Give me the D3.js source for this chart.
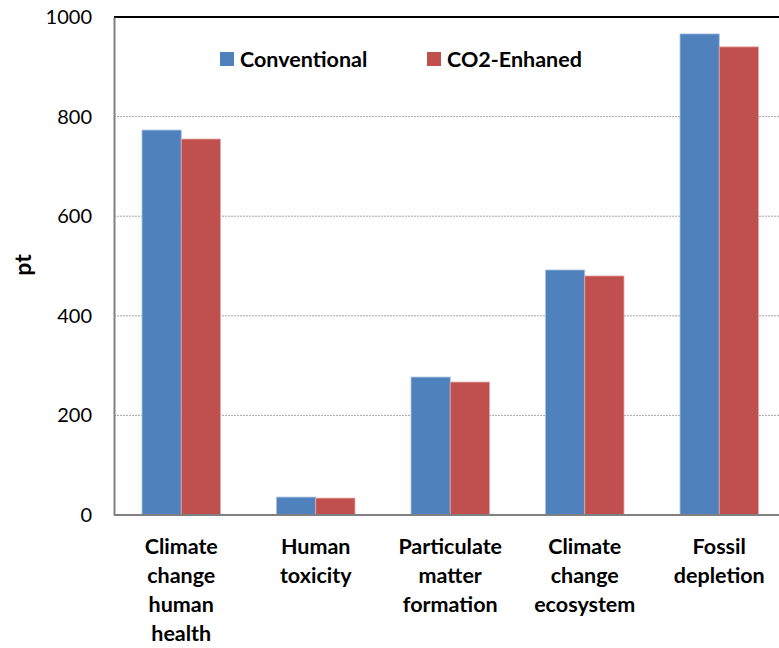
<!DOCTYPE html>
<html><head><meta charset="utf-8">
<script src="https://cdn.jsdelivr.net/npm/d3@7"></script>
<style>body{margin:0;background:#fff}svg{display:block}</style>
</head><body>
<script>
const categories = [["Climate","change","human","health"],["Human","toxicity"],["Particulate","matter","formation"],["Climate","change","ecosystem"],["Fossil","depletion"]];
const seriesNames = ["Conventional","CO2-Enhaned"];
const conventional = [773, 36, 277, 492, 966];
const co2Enhanced = [755, 34, 267, 480, 940];
const yTicks = [0, 200, 400, 600, 800, 1000];
const colors = ["#4F81BD", "#C0504D"];

(function () {
const W = 779, H = 648;
const pL = 114, pT = 17, pB = 515, pR = 786.5;
const font = "Lato, 'Open Sans', sans-serif";

const svg = d3.select("body").append("svg").attr("width", W).attr("height", H);

const x = d3.scaleBand().domain(d3.range(categories.length)).range([pL, pR]).paddingInner(0).paddingOuter(0);
const xs = d3.scaleBand().domain([0,1]).range([0, x.bandwidth()]).paddingInner(0).paddingOuter(0.7143);
const y = d3.scaleLinear().domain([0, 1000]).range([pB, pT]);

// gridlines
svg.append("g").selectAll("line").data(yTicks.filter(d => d > 0 && d < 1000)).join("line")
  .attr("x1", pL).attr("x2", W).attr("y1", d => y(d)).attr("y2", d => y(d))
  .attr("stroke", "#a6a6a6").attr("stroke-width", 1).attr("stroke-dasharray", "2,1");

// top border
svg.append("line").attr("x1", pL).attr("x2", W).attr("y1", pT).attr("y2", pT)
  .attr("stroke", "#000").attr("stroke-width", 2);

// bars
const series = [conventional, co2Enhanced];
series.forEach((vals, si) => {
  svg.append("g").selectAll("rect").data(vals).join("rect")
    .attr("x", (d, i) => x(i) + xs(si))
    .attr("width", xs.bandwidth())
    .attr("y", d => y(d))
    .attr("height", d => y(0) - y(d))
    .attr("fill", colors[si])
    .attr("stroke", si === 0 ? "#a9c1e0" : "#e0a8a6")
    .attr("stroke-width", 0.8);
});

// axes
const yAxis = d3.axisLeft(y).tickValues(yTicks).tickFormat(d3.format("d")).tickSize(0).tickPadding(22);
const gy = svg.append("g").attr("transform", `translate(${pL},0)`).call(yAxis);
gy.select(".domain").attr("stroke", "#808080").attr("stroke-width", 2);
gy.selectAll("text").attr("font-family", font).attr("font-size", 20).attr("fill", "#000");

svg.append("line").attr("x1", pL).attr("x2", W).attr("y1", pB).attr("y2", pB)
  .attr("stroke", "#808080").attr("stroke-width", 2);

// category labels
const cl = svg.append("g");
categories.forEach((lines, i) => {
  const cx = x(i) + x.bandwidth() / 2;
  const t = cl.append("text").attr("x", cx).attr("y", 554)
    .attr("text-anchor", "middle").attr("font-family", font).attr("font-size", 21.5)
    .attr("font-weight", "bold").attr("fill", "#000");
  lines.forEach((ln, j) => t.append("tspan").attr("x", cx).attr("dy", j === 0 ? 0 : 29).text(ln));
});

// y title
svg.append("text").attr("transform", "translate(31,265) rotate(-90)")
  .attr("text-anchor", "middle").attr("font-family", font).attr("font-size", 23)
  .attr("font-weight", "bold").text("pt");

// legend
const legX = [220, 427];
seriesNames.forEach((n, i) => {
  svg.append("rect").attr("x", legX[i]).attr("y", 52).attr("width", 14).attr("height", 14).attr("fill", colors[i]);
  svg.append("text").attr("x", legX[i] + 20).attr("y", 67).attr("font-family", font)
    .attr("font-size", 21.5).attr("font-weight", "bold").text(n);
});
})();
</script>
</body></html>
